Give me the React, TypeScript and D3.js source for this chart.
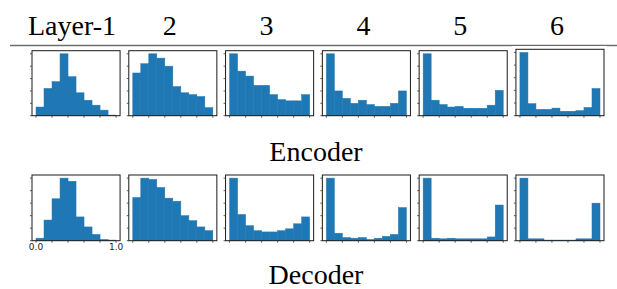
import React from 'react'
import * as d3 from 'd3'

// relative bin heights (10 bins over [0, 1])
const layerTitles = ['Layer-1', '2', '3', '4', '5', '6']
const rowLabels = ['Encoder', 'Decoder']
const tickLabels = ['0.0', '1.0']

const encoder1 = [0.14, 0.44, 0.55, 1.0, 0.63, 0.37, 0.25, 0.17, 0.09, 0.01]
const encoder2 = [0.69, 0.84, 1.0, 0.93, 0.8, 0.47, 0.37, 0.34, 0.31, 0.13]
const encoder3 = [1.0, 0.72, 0.64, 0.49, 0.49, 0.34, 0.26, 0.24, 0.24, 0.34]
const encoder4 = [1.0, 0.4, 0.28, 0.2, 0.25, 0.18, 0.15, 0.15, 0.2, 0.4]
const encoder5 = [1.0, 0.25, 0.18, 0.14, 0.15, 0.12, 0.12, 0.12, 0.17, 0.41]
const encoder6 = [1.0, 0.19, 0.1, 0.1, 0.12, 0.07, 0.07, 0.08, 0.13, 0.43]

const decoder1 = [0.04, 0.33, 0.67, 1.0, 0.95, 0.38, 0.22, 0.1, 0.02, 0.01]
const decoder2 = [0.69, 1.0, 0.98, 0.85, 0.68, 0.63, 0.4, 0.32, 0.22, 0.16]
const decoder3 = [1.0, 0.42, 0.24, 0.16, 0.14, 0.14, 0.16, 0.19, 0.27, 0.38]
const decoder4 = [1.0, 0.12, 0.05, 0.04, 0.05, 0.02, 0.04, 0.07, 0.1, 0.53]
const decoder5 = [1.0, 0.04, 0.03, 0.04, 0.03, 0.03, 0.03, 0.03, 0.06, 0.57]
const decoder6 = [1.0, 0.03, 0.03, 0.01, 0.01, 0.01, 0.01, 0.03, 0.03, 0.6]

const encoderRows = [encoder1, encoder2, encoder3, encoder4, encoder5, encoder6]
const decoderRows = [decoder1, decoder2, decoder3, decoder4, decoder5, decoder6]

const W = 617
const H = 289
const BLUE = '#1f77b4'
const serif = '"Liberation Serif", "Times New Roman", serif'
const sans = '"DejaVu Sans", sans-serif'

const panelX = d3.scaleBand<number>().domain(d3.range(6)).range([32, 604]).paddingInner(0.09)
const rows = [
  { top: 50.7, bottom: 115.7, data: encoderRows },
  { top: 175, bottom: 240.7, data: decoderRows },
]

const Hist = ({ values, x0, top, bottom, showLabels }) => {
  const w = panelX.bandwidth()
  const x = d3.scaleLinear().domain([-0.05, 1.05]).range([x0, x0 + w])
  const y = d3.scaleLinear().domain([0, d3.max(values) * 1.05]).range([bottom, top])
  const edges = d3.range(values.length + 1).map((i) => i / values.length)
  const xTicks = d3.range(0, 1.01, 0.2)
  const yTicks = y.ticks(5)
  return (
    <g>
      <rect x={x0} y={top} width={w} height={bottom - top} fill='#fff' />
      {values.map((v, i) => (
        <rect
          key={i}
          x={x(edges[i])}
          y={y(v)}
          width={x(edges[i + 1]) - x(edges[i])}
          height={y(0) - y(v)}
          fill={BLUE}
          stroke={BLUE}
          strokeWidth={0.5}
        />
      ))}
      <rect x={x0} y={top} width={w} height={bottom - top} fill='none' stroke='#1a1a1a' strokeWidth={1} />
      {xTicks.map((t) => (
        <line key={'x' + t} x1={x(t)} x2={x(t)} y1={bottom} y2={bottom + 2} stroke='#333' strokeWidth={0.8} />
      ))}
      {yTicks.map((t) => (
        <line key={'y' + t} x1={x0 - 2} x2={x0} y1={y(t)} y2={y(t)} stroke='#333' strokeWidth={0.8} />
      ))}
      {showLabels &&
        [0, 1].map((t, i) => (
          <text key={t} x={x(t)} y={bottom + 9.3} textAnchor='middle' fontSize={9} fontFamily={sans} fill='#222'>
            {tickLabels[i]}
          </text>
        ))}
    </g>
  )
}

export default function App() {
  return (
    <svg width={W} height={H} style={{ position: 'absolute', left: 0, top: 0, background: '#fff' }}>
      {layerTitles.map((t, i) => (
        <text
          key={t}
          x={panelX(i) + panelX.bandwidth() / 2 - (i === 0 ? 4 : 3)}
          y={35}
          textAnchor='middle'
          fontSize={28}
          fontFamily={serif}
          fill='#000'
        >
          {t}
        </text>
      ))}
      <line x1={10} x2={W} y1={45.5} y2={45.5} stroke='#6e6e6e' strokeWidth={1.6} />
      {/* last encoder image sits over the rule */}
      <rect x={panelX(5) - 4} y={46} width={panelX.bandwidth() + 7} height={72} fill='#fff' />
      {rows.map((r, ri) =>
        r.data.map((vals, i) => (
          <Hist
            key={ri + '-' + i}
            values={vals}
            x0={panelX(i)}
            top={ri === 0 && i === 5 ? r.top - 1.4 : r.top}
            bottom={r.bottom}
            showLabels={ri === 1 && i === 0}
          />
        ))
      )}
      <text x={316} y={161} textAnchor='middle' fontSize={28} fontFamily={serif} fill='#000'>
        {rowLabels[0]}
      </text>
      <text x={316} y={284} textAnchor='middle' fontSize={28} fontFamily={serif} fill='#000'>
        {rowLabels[1]}
      </text>
    </svg>
  )
}
